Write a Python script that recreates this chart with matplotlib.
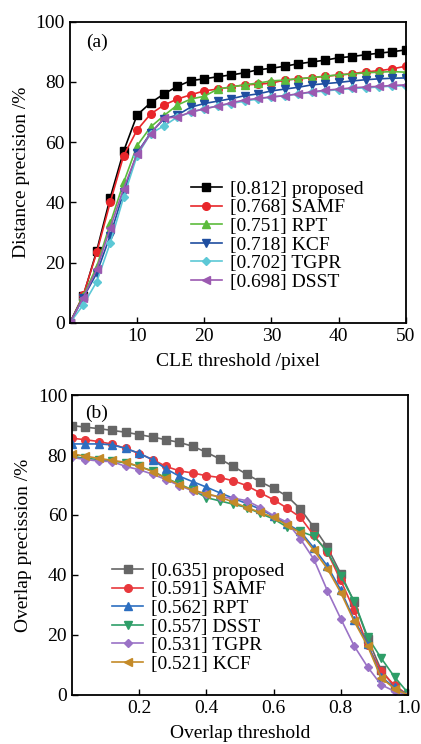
import numpy as np
import matplotlib
matplotlib.use('Agg')
import matplotlib.pyplot as plt

plt.rcParams['font.family'] = ['Liberation Serif', 'DejaVu Serif']
plt.rcParams['font.size'] = 14

# (a) distance precision
cle_x = np.arange(0, 51, 2)
dp_proposed = [0, 9, 24, 41.5, 57, 69, 73, 76, 78.5, 80.4, 81, 81.7, 82.3, 83, 84, 84.5,
               85.2, 86, 86.6, 87.2, 88, 88.4, 89, 89.5, 90, 90.6]
dp_samf = [0, 9.3, 23.4, 40, 55.5, 64, 69.3, 72.3, 74.3, 75.7, 77, 77.6, 78.3, 79, 79.2, 79.6,
           80.6, 81, 81.4, 81.8, 82.3, 82.7, 83.3, 83.7, 84.3, 85.2]
dp_rpt = [0, 9, 18.7, 33, 46.6, 58.8, 65, 68.8, 72.3, 74.3, 75.2, 77.6, 78.3, 79, 79.6, 80.3,
          80.6, 81, 81.4, 81.9, 82.3, 82.6, 83, 83.2, 83.4, 83.2]
dp_kcf = [0, 8.4, 16.5, 29, 43.3, 56.4, 63, 67.7, 69, 71.6, 72.8, 73.6, 74.4, 75.4, 76, 77,
          77.6, 78.2, 79, 79.4, 79.8, 80.3, 80.7, 81, 81.2, 81.3]
dp_tgpr = [0, 6, 13.7, 26.5, 41.7, 55.5, 62.8, 65.4, 68.3, 69.9, 71.1, 72, 72.8, 73.6, 74.3, 75,
           75.4, 76, 76.5, 77, 77.4, 77.8, 78, 78.3, 78.6, 78.7]
dp_dsst = [0, 8.4, 17.8, 31.5, 44.6, 56.1, 62.8, 68, 68.3, 70, 71, 72, 73, 74, 74.5, 75,
           75.4, 76, 76.7, 77.2, 77.6, 78, 78.3, 78.5, 78.8, 79]

# (b) overlap precision
ov_x = np.linspace(0, 1, 26)
op_proposed = [89.8, 89.3, 88.8, 88.2, 87.6, 86.8, 86, 85.1, 84.2, 82.9, 80.9, 78.7, 76.2,
               73.6, 71.1, 68.9, 66.3, 62, 55.9, 49.3, 40.4, 31, 18.8, 8.4, 2.7, 0]
op_samf = [85.6, 85.1, 84.5, 83.6, 82.2, 80.5, 78.5, 76.2, 74.7, 74, 73.1, 72.5, 71.4, 69.8,
           67.4, 65.1, 62.3, 59.2, 53.2, 47.6, 38.2, 28.2, 16.5, 7.9, 3.2, 0]
op_rpt = [83.7, 83.7, 83.7, 83.4, 82.2, 80.6, 78.4, 75.4, 72.9, 71.1, 69.3, 67.4, 65.6, 63.8,
          62, 59.6, 57, 54.5, 49, 43, 35, 25, 17, 6, 2.5, 0]
op_dsst = [79.5, 78.9, 78.5, 78, 77.4, 76.2, 74.7, 72.3, 70.3, 68.3, 65.8, 64.7, 63.6, 62.5,
           60.5, 58.7, 56, 54.5, 52.9, 47.8, 39.6, 31.2, 19.3, 12.3, 6, 0.7]
op_tgpr = [79.2, 78.5, 78, 77.8, 76.2, 75.1, 73.6, 71.8, 69.8, 68, 66.9, 66, 65.6, 64.8, 62.5,
           59.8, 57.6, 52, 45.2, 34.8, 25.4, 16.3, 9.3, 3.4, 1.2, 0]
op_kcf = [80.4, 79.6, 78.9, 78.2, 77.6, 76.2, 74.5, 72.3, 70, 68.3, 67.1, 66, 64.3, 62.5, 60.9,
          59.2, 56.7, 54, 48.2, 42.1, 34.1, 24.5, 16.3, 5.7, 2.1, 0]

fig = plt.figure(figsize=(4.21, 7.44), dpi=100)
ax1 = fig.add_axes([0.166, 0.566, 0.798, 0.405])
ax2 = fig.add_axes([0.171, 0.066, 0.798, 0.403])

series_a = [
    (dp_proposed, '[0.812] proposed', '#000000', 's'),
    (dp_samf, '[0.768] SAMF', '#e8262a', 'o'),
    (dp_rpt, '[0.751] RPT', '#5cbb3c', '^'),
    (dp_kcf, '[0.718] KCF', '#1f4ea0', 'v'),
    (dp_tgpr, '[0.702] TGPR', '#5cc8d6', 'D'),
    (dp_dsst, '[0.698] DSST', '#9b59b0', '<'),
]
series_b = [
    (op_proposed, '[0.635] proposed', '#666666', 's'),
    (op_samf, '[0.591] SAMF', '#e8383c', 'o'),
    (op_rpt, '[0.562] RPT', '#2c6ec0', '^'),
    (op_dsst, '[0.557] DSST', '#2e9e68', 'v'),
    (op_tgpr, '[0.531] TGPR', '#9a72c6', 'D'),
    (op_kcf, '[0.521] KCF', '#c48a28', '<'),
]

for ax, xs, series in [(ax1, cle_x, series_a), (ax2, ov_x, series_b)]:
    for ys, lab, col, m in series:
        ms = 4.5 if m == 'D' else 5.5
        ax.plot(xs, ys, color=col, marker=m, markersize=ms, linewidth=1.2, label=lab)
    ax.set_ylim(0, 100)
    ax.set_yticks([0, 20, 40, 60, 80, 100])
    ax.tick_params(direction='in', length=4, width=1, top=False, right=False, labelsize=14)
    for s in ax.spines.values():
        s.set_linewidth(1.3)

ax1.set_xlim(0, 50)
ax1.set_xticks([10, 20, 30, 40, 50])
ax1.set_xlabel('CLE threshold /pixel', fontsize=14, labelpad=6)
ax1.set_ylabel('Distance precision /%', fontsize=14, labelpad=4)
ax1.text(0.08, 0.93, '(a)', transform=ax1.transAxes, fontsize=14, ha='center', va='center')
ax1.legend(loc='center left', bbox_to_anchor=(0.36, 0.29), frameon=False, fontsize=14,
           borderaxespad=0, borderpad=0, handlelength=1.6, handletextpad=0.4, labelspacing=0.05)

ax2.set_xlim(0, 1)
ax2.set_xticks([0.2, 0.4, 0.6, 0.8, 1.0])
ax2.set_xticklabels(['0.2', '0.4', '0.6', '0.8', '1.0'])
ax2.set_xlabel('Overlap threshold', fontsize=14, labelpad=6)
ax2.set_ylabel('Overlap precission /%', fontsize=14, labelpad=4)
ax2.text(0.074, 0.94, '(b)', transform=ax2.transAxes, fontsize=14, ha='center', va='center')
ax2.legend(loc='center left', bbox_to_anchor=(0.12, 0.258), frameon=False, fontsize=14,
           borderaxespad=0, borderpad=0, handlelength=1.6, handletextpad=0.4, labelspacing=0.05)

fig.savefig('out.png', dpi=100)
